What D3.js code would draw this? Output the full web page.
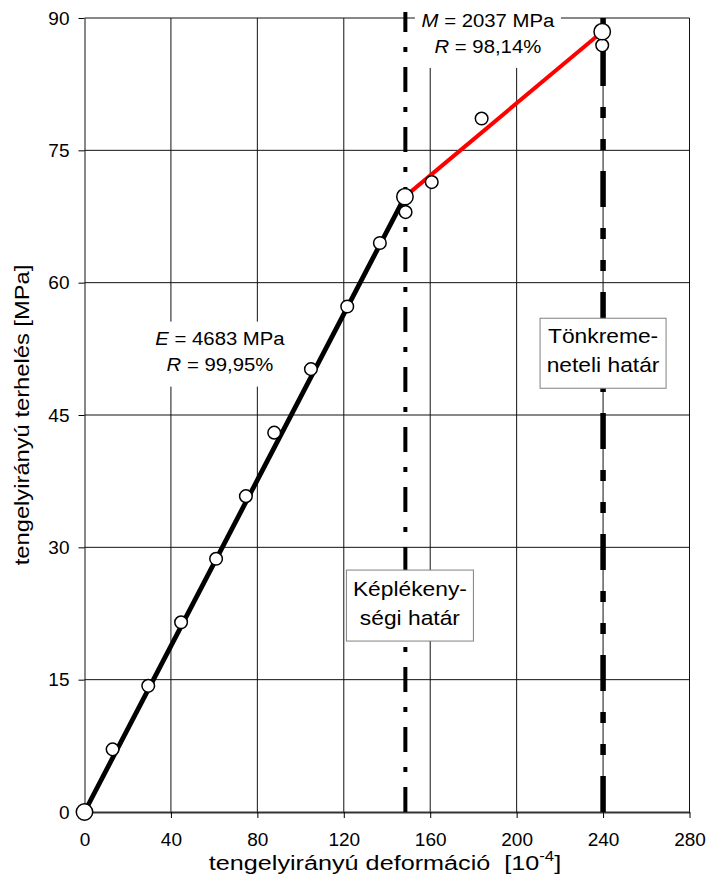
<!DOCTYPE html>
<html><head><meta charset="utf-8">
<script src="https://cdn.jsdelivr.net/npm/d3@7"></script>
<style>body{margin:0;background:#fff} text{font-family:"Liberation Sans",Arial,sans-serif;fill:#000;white-space:pre}</style>
</head><body><svg id="c" width="707" height="886"></svg>
<script>
// ---- data ----
const strain = [0, 13.0, 29.5, 44.7, 60.9, 74.7, 87.8, 104.8, 121.6, 136.7, 148.6, 160.7, 183.8, 239.6];
const stress = [0, 7.1, 14.3, 21.5, 28.7, 35.8, 43.0, 50.2, 57.3, 64.5, 68.0, 71.4, 78.6, 86.9];
const elasticFitX = [0, 148.3];
const elasticFitY = [0, 69.75];
const plasticFitX = [148.3, 239.6];
const plasticFitY = [69.75, 88.45];
const plasticLimit = 148.5;
const failureLimit = 240;
const xTicks = [0, 40, 80, 120, 160, 200, 240, 280];
const yTicks = [0, 15, 30, 45, 60, 75, 90];
const xTitle = "tengelyirányú deformáció  [10";
const xTitleSup = "-4";
const yTitle = "tengelyirányú terhelés [MPa]";
const elasticNote = [["E", " = 4683 MPa"], ["R", " = 99,95%"]];
const plasticNote = [["M", " = 2037 MPa"], ["R", " = 98,14%"]];
const plasticBox = ["Képlékeny-", "ségi határ"];
const failureBox = ["Tönkreme-", "neteli határ"];

// ---- layout ----
const FONT = '"Liberation Sans",Arial,sans-serif';
const svg = d3.select("#c");
const x = d3.scaleLinear().domain([0, 280]).range([84.5, 689.5]);
const y = d3.scaleLinear().domain([0, 90]).range([812, 18]);

// gridlines
const grid = svg.append("g");
grid.selectAll("line.v").data(xTicks.slice(1)).join("line")
  .attr("x1", d => x(d)).attr("x2", d => x(d)).attr("y1", y(0)).attr("y2", y(90))
  .attr("stroke", "#111").attr("stroke-width", 1);
grid.selectAll("line.h").data(yTicks.slice(1)).join("line")
  .attr("x1", x(0)).attr("x2", x(280)).attr("y1", d => y(d)).attr("y2", d => y(d))
  .attr("stroke", "#111").attr("stroke-width", 1);

// axes
const ya = svg.append("g").attr("transform", `translate(${x(0)},0)`)
  .call(d3.axisLeft(y).tickValues(yTicks).tickSize(6).tickPadding(9).tickSizeOuter(0));
ya.select(".domain").attr("stroke", "#111");
ya.selectAll("text").style("font-size", "19px").style("font-family", FONT);
const xa = svg.append("g").attr("transform", `translate(0,${y(0)})`)
  .call(d3.axisBottom(x).tickValues(xTicks).tickSize(6).tickPadding(15).tickSizeOuter(0));
xa.select(".domain").attr("stroke", "#333").attr("stroke-width", 2);
xa.selectAll("text").style("font-size", "19px").style("font-family", FONT);

// helper for stretched multi-part text
function note(g, cx, cy, parts, fs, sx) {
  const t = g.append("text").attr("transform", `translate(${cx},${cy}) scale(${sx},1)`)
    .attr("text-anchor", "middle").style("font-size", fs + "px");
  parts.forEach((p, i) => t.append("tspan").text(p).style("font-style", i === 0 && parts.length > 1 ? "italic" : null));
  return t;
}

// annotation boxes (white, hide grid)
const ann = svg.append("g");
function fitNote(lines, cxD, cyD, w, h, b1, b2) {
  const cx = x(cxD), cy = y(cyD);
  ann.append("rect").attr("x", cx - w / 2).attr("y", cy - h / 2).attr("width", w).attr("height", h).attr("fill", "#fff");
  note(ann, cx, cy + b1, lines[0], 19, 1.07);
  note(ann, cx, cy + b2, lines[1], 19, 1.07);
}
fitNote(elasticNote, 62.7, 51.9, 150, 65, -9, 17);
fitNote(plasticNote, 186.7, 88.2, 146, 68, -7, 19);

// limit lines
const lim = svg.append("g");
lim.append("line").attr("x1", x(plasticLimit)).attr("x2", x(plasticLimit))
  .attr("y1", y(0)).attr("y2", y(90) - 6)
  .attr("stroke", "#000").attr("stroke-width", 4).attr("stroke-dasharray", "25,15,5,15");
lim.append("line").attr("x1", x(failureLimit)).attr("x2", x(failureLimit))
  .attr("y1", y(0)).attr("y2", y(90))
  .attr("stroke", "#000").attr("stroke-width", 5.5).attr("stroke-dasharray", "36,21,11,21,11,21");

// fit lines
const line = d3.line().x(d => x(d[0])).y(d => y(d[1]));
svg.append("path").datum(elasticFitX.map((v, i) => [v, elasticFitY[i]]))
  .attr("d", line).attr("fill", "none").attr("stroke", "#000").attr("stroke-width", 4.8);
svg.append("path").datum(plasticFitX.map((v, i) => [v, plasticFitY[i]]))
  .attr("d", line).attr("fill", "none").attr("stroke", "#ff0000").attr("stroke-width", 4);

// measured points
svg.append("g").selectAll("circle").data(strain.map((v, i) => [v, stress[i]])).join("circle")
  .attr("cx", d => x(d[0])).attr("cy", d => y(d[1])).attr("r", 6.3)
  .attr("fill", "#fff").attr("stroke", "#000").attr("stroke-width", 1.5);
// fit end markers
const ends = [[elasticFitX[0], elasticFitY[0]], [plasticFitX[0], plasticFitY[0]], [plasticFitX[1], plasticFitY[1]]];
svg.append("g").selectAll("circle").data(ends).join("circle")
  .attr("cx", d => x(d[0])).attr("cy", d => y(d[1])).attr("r", 8.2)
  .attr("fill", "#fff").attr("stroke", "#000").attr("stroke-width", 1.5);

// boxed limit labels
function boxLabel(lines, cxD, cyD, w, h) {
  const cx = x(cxD), cy = y(cyD);
  svg.append("rect").attr("x", cx - w / 2).attr("y", cy - h / 2).attr("width", w).attr("height", h)
    .attr("fill", "#fff").attr("stroke", "#808080").attr("stroke-width", 1);
  note(svg, cx, cy - 10, [lines[0]], 20, 1.14);
  note(svg, cx, cy + 19, [lines[1]], 20, 1.14);
}
boxLabel(failureBox, failureLimit, 52.0, 126, 70);
boxLabel(plasticBox, 150.6, 23.4, 127, 71);

// axis titles
const xt = svg.append("text").attr("transform", `translate(385,870) scale(1.2,1)`)
  .attr("text-anchor", "middle").style("font-size", "21px");
xt.append("tspan").text(xTitle);
xt.append("tspan").text(xTitleSup).attr("dy", -9).style("font-size", "14px");
xt.append("tspan").text("]").attr("dy", 9);
svg.append("text").attr("transform", `translate(29,${(y(0) + y(90)) / 2}) rotate(-90) scale(1.13,1)`)
  .attr("text-anchor", "middle").style("font-size", "21px").text(yTitle);
</script></body></html>
